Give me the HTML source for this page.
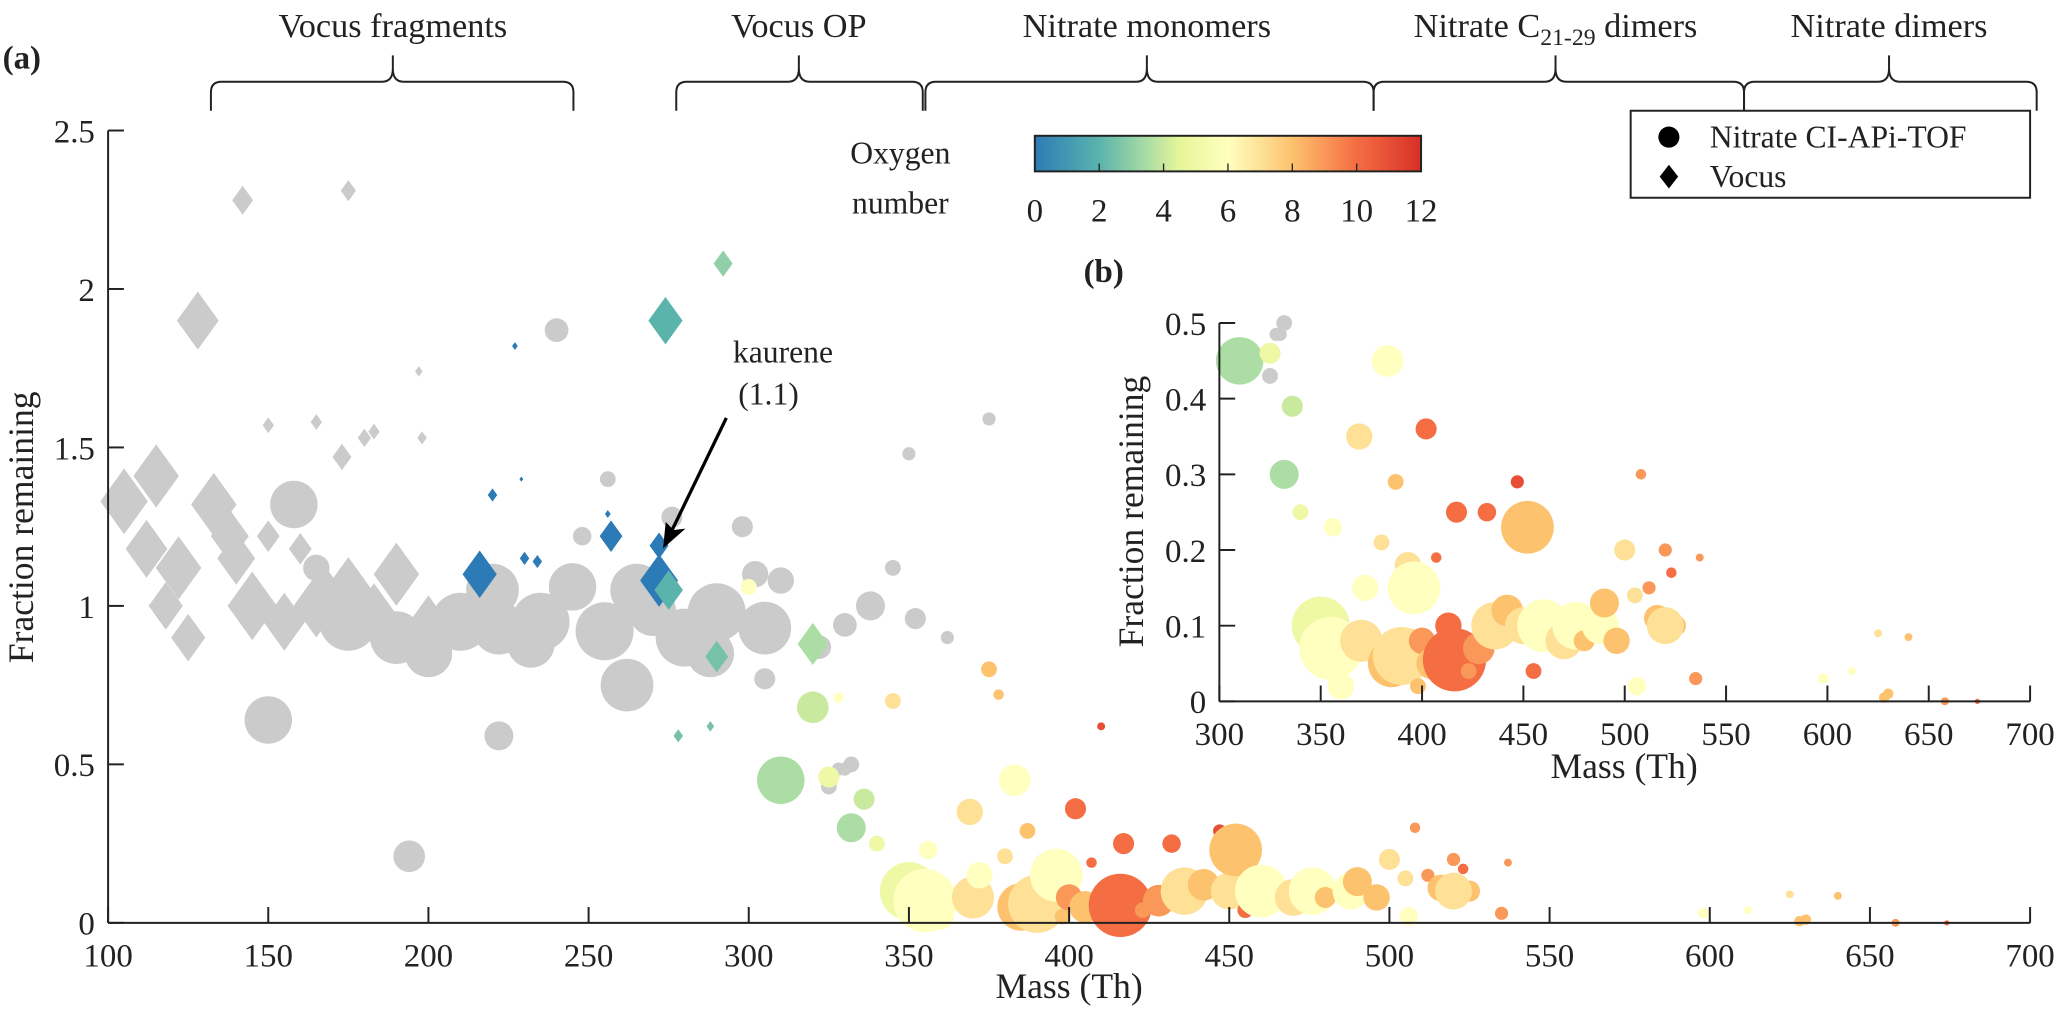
<!DOCTYPE html>
<html><head><meta charset="utf-8"><style>
body{margin:0;background:#fff}
svg{display:block}
text{font-family:"Liberation Serif","Times New Roman",serif}
</style></head><body>
<svg id="chart" width="2067" height="1013" viewBox="0 0 1568 768.4" preserveAspectRatio="none" xmlns="http://www.w3.org/2000/svg" font-family="Liberation Serif, serif">
<g id="top"></g>
<g id="main"></g>
<g id="inset"></g>
<g id="cbar"></g>
</svg>
<script>
const NS="http://www.w3.org/2000/svg";
const vocusMass=[128,142,175,105,115,112,122,118,125,133,138,140,145,155,165,175,183,190,200,150,165,173,180,183,197,198,150,160,168,216,257,220,230,234,227,229,256,272,272,274,292,275,290,320,278,288];
const vocusFrac=[1.9,2.28,2.31,1.33,1.41,1.18,1.12,1.0,0.9,1.32,1.22,1.15,1.0,0.95,1.0,1.05,0.98,1.1,0.95,1.57,1.58,1.47,1.53,1.55,1.74,1.53,1.22,1.18,1.08,1.1,1.22,1.35,1.15,1.14,1.82,1.4,1.29,1.19,1.08,1.9,2.08,1.05,0.84,0.88,0.59,0.62];
const vocusSize=[22,11,8,25,24,22,24,18,18,24,20,20,26,22,24,25,22,24,20,6,6,10,7,6,4,5,12,12,10,18,12,5,5,5,3,2,3,10,20,18,10,15,12,16,5,4];
const vocusOxy=[-1,-1,-1,-1,-1,-1,-1,-1,-1,-1,-1,-1,-1,-1,-1,-1,-1,-1,-1,-1,-1,-1,-1,-1,-1,-1,-1,-1,-1,0,0,0,0,0,0,0,0,0,0,2,3,2,2.5,3.5,2.5,2.5];
const nitMass=[150,158,165,194,222,240,256,248,175,190,200,210,222,232,245,255,262,270,280,290,298,302,305,288,276,305,310,322,330,338,345,350,375,352,362,332,330,220,235,265,328,325,
310,320,300,332,336,340,325,328,350,355,360,356,345,369,370,372,378,375,383,380,385,387,390,393,396,398,400,402,405,407,410,413,416,417,423,428,432,436,442,447,450,452,455,460,470,476,480,488,490,496,500,505,506,508,512,516,520,523,525,535,537,598,612,625,628,630,640,658,674,520];
const nitFrac=[0.64,1.32,1.12,0.21,0.59,1.87,1.4,1.22,0.95,0.9,0.85,0.95,0.93,0.88,1.06,0.92,0.75,0.98,0.9,0.98,1.25,1.1,0.93,0.85,1.28,0.77,1.08,0.87,0.94,1.0,1.12,1.48,1.59,0.96,0.9,0.5,0.485,1.05,0.95,1.05,0.485,0.43,
0.45,0.68,1.06,0.3,0.39,0.25,0.46,0.71,0.1,0.07,0.02,0.23,0.7,0.35,0.08,0.15,0.72,0.8,0.45,0.21,0.05,0.29,0.06,0.18,0.15,0.02,0.08,0.36,0.05,0.19,0.62,0.1,0.055,0.25,0.04,0.07,0.25,0.1,0.12,0.29,0.1,0.23,0.04,0.1,0.08,0.1,0.08,0.1,0.13,0.08,0.2,0.14,0.02,0.3,0.15,0.11,0.2,0.17,0.1,0.03,0.19,0.03,0.04,0.09,0.005,0.01,0.085,0.0,0.0,0.1];
const nitSize=[18,18,10,12,11,9,6,7,22,20,18,22,20,18,18,22,20,18,22,22,8,10,20,18,8,8,10,9,9,11,6,5,5,8,5,6,5,20,22,20,5,6,
18,12,6,11,8,6,8,4,22,24,10,7,6,10,16,10,4,6,12,6,18,6,22,10,20,6,10,8,12,4,3,10,24,8,6,12,7,18,12,5,14,20,6,20,14,18,8,14,11,10,8,6,7,4,5,10,5,4,8,5,3,4,3,3,4,4,3,3,2,14];
const nitOxy=[-1,-1,-1,-1,-1,-1,-1,-1,-1,-1,-1,-1,-1,-1,-1,-1,-1,-1,-1,-1,-1,-1,-1,-1,-1,-1,-1,-1,-1,-1,-1,-1,-1,-1,-1,-1,-1,-1,-1,-1,-1,-1,
3.5,4,6,3.5,4,5,5,6,5,6,6,6,7,7,7,6,8,8,6,7,8,8,7,7,6,8,9,10,8,10,11,10,10,10,9,9,10,7,8,11,7,8,10,6,7,6,8,6,8,8,7,7,6,9,9,8,9,10,8,9,9,6,6,7,8,8,8,9,10,7];
const xTicks=[100,150,200,250,300,350,400,450,500,550,600,650,700];
const yTicks=[0,0.5,1,1.5,2,2.5];
const ixTicks=[300,350,400,450,500,550,600,650,700];
const iyTicks=[0,0.1,0.2,0.3,0.4,0.5];
const cTicks=[0,2,4,6,8,10,12];

const X=m=>82+(m-100)*1458/600, Y=v=>700-v*240.4;
const IX=m=>925+(m-300)*615/400, IY=v=>532-v*574;
const stops=[[0,[44,123,182]],[2,[90,180,172]],[3.5,[171,221,164]],[4.5,[230,245,152]],[6,[255,255,191]],[8,[253,194,110]],[10,[244,109,67]],[12,[215,48,39]]];
function cmap(o){if(o<0)return"#cbcbcb";for(let i=0;i<stops.length-1;i++){const[a,ca]=stops[i],[b,cb]=stops[i+1];if(o<=b){const t=(o-a)/(b-a);return"rgb("+ca.map((c,k)=>Math.round(c+(cb[k]-c)*t)).join(",")+")";}}return"rgb(215,48,39)";}
function el(p,t,a){const e=document.createElementNS(NS,t);for(const k in a)e.setAttribute(k,a[k]);p.appendChild(e);return e;}
function txt(p,x,y,s,size,anchor){const e=el(p,"text",{x:x,y:y,"font-size":size,"text-anchor":anchor||"middle",fill:"#222","font-family":"Liberation Serif, serif"});e.textContent=s;return e;}
const main=document.getElementById("main"),inset=document.getElementById("inset"),top_=document.getElementById("top"),cbar=document.getElementById("cbar");

function diamond(g,cx,cy,s,fill){const w=s*0.72;const e=el(g,"polygon",{points:`${cx},${cy-s} ${cx+w},${cy} ${cx},${cy+s} ${cx-w},${cy}`,fill:fill});

}
function circ(g,cx,cy,r,fill,name){const e=el(g,"circle",{cx:cx,cy:cy,r:r,fill:fill});

}
function axes(g,xf,yf,xt,yt,x0,x1,y0,y1,name,fmt){
  el(g,"line",{x1:xf(x0),y1:yf(y0),x2:xf(x1),y2:yf(y0),stroke:"#222","stroke-width":1.5});
  el(g,"line",{x1:xf(x0),y1:yf(y0),x2:xf(x0),y2:yf(y1),stroke:"#222","stroke-width":1.5});
  xt.forEach(t=>{el(g,"line",{x1:xf(t),y1:yf(y0),x2:xf(t),y2:yf(y0)-12,stroke:"#222","stroke-width":1.5});
    const e=txt(g,xf(t),yf(y0)+33,String(t),25);});
  yt.forEach(t=>{el(g,"line",{x1:xf(x0),y1:yf(t),x2:xf(x0)+12,y2:yf(t),stroke:"#222","stroke-width":1.5});
    const e=txt(g,xf(x0)-10,yf(t)+9,fmt(t),25,"end");});
}
vocusMass.forEach((m,i)=>{if(vocusOxy[i]<0)diamond(main,X(m),Y(vocusFrac[i]),vocusSize[i],cmap(-1));});
nitMass.forEach((m,i)=>{if(nitOxy[i]<0)circ(main,X(m),Y(nitFrac[i]),nitSize[i],cmap(-1),'nitrate-point');});
vocusMass.forEach((m,i)=>{if(vocusOxy[i]>=0)diamond(main,X(m),Y(vocusFrac[i]),vocusSize[i],cmap(vocusOxy[i]));});
nitMass.forEach((m,i)=>{if(nitOxy[i]>=0)circ(main,X(m),Y(nitFrac[i]),nitSize[i],cmap(nitOxy[i]),'nitrate-point');});
axes(main,X,Y,xTicks,yTicks,100,700,0,2.5,"main",t=>String(t));
let e=txt(main,811,757,"Mass (Th)",27);
e=txt(main,0,0,"Fraction remaining",27);e.setAttribute("transform","translate(25,400) rotate(-90)");
e=txt(main,2,52,"(a)",25,"start");e.setAttribute("font-weight","bold");
e=txt(main,556,275,"kaurene",24,"start");
e=txt(main,560,307,"(1.1)",24,"start");
el(main,"line",{x1:551,y1:317,x2:506,y2:410,stroke:"#000","stroke-width":2.5});
el(main,"polygon",{points:"503,416 505,396 511,402 520,401",fill:"#000"});
nitMass.forEach((m,i)=>{if(m>=300&&nitFrac[i]<=0.5&&nitOxy[i]<0)circ(inset,IX(m),IY(nitFrac[i]),nitSize[i],cmap(-1),'inset-point');});
nitMass.forEach((m,i)=>{if(m>=300&&nitFrac[i]<=0.5&&nitOxy[i]>=0)circ(inset,IX(m),IY(nitFrac[i]),nitSize[i],cmap(nitOxy[i]),'inset-point');});
axes(inset,IX,IY,ixTicks,iyTicks,300,700,0,0.5,"inset",t=>t===0?"0":String(t));
e=txt(inset,1232,590,"Mass (Th)",27);
e=txt(inset,0,0,"Fraction remaining",27);e.setAttribute("transform","translate(867,388) rotate(-90)");
e=txt(inset,822,214,"(b)",25,"start");e.setAttribute("font-weight","bold");
const grad=el(cbar,"linearGradient",{id:"cg",x1:0,x2:1,y1:0,y2:0});
for(let o=0;o<=12;o+=0.5)el(grad,"stop",{offset:o/12,"stop-color":cmap(o)});
el(cbar,"rect",{x:785,y:103,width:293,height:27,fill:"url(#cg)",stroke:"#222","stroke-width":1.5});
cTicks.forEach(t=>{const x=785+t/12*293;el(cbar,"line",{x1:x,y1:130,x2:x,y2:124,stroke:"#222"});
 const e=txt(cbar,x,168,String(t),25);});
e=txt(cbar,683,124,"Oxygen",24);
e=txt(cbar,683,162,"number",24);
const lg=el(cbar,"g",{});
el(lg,"rect",{x:1237,y:84,width:303,height:66,fill:"#fff",stroke:"#222","stroke-width":1.5});
el(lg,"circle",{cx:1266,cy:104,r:8,fill:"#000"});
el(lg,"polygon",{points:"1266,125 1273,134 1266,143 1259,134",fill:"#000"});
txt(lg,1297,112,"Nitrate CI-APi-TOF",24,"start");
txt(lg,1297,142,"Vocus",24,"start");
const groups=[["Vocus fragments",160,298,435],["Vocus OP",513,606,700],["Nitrate monomers",702,870,1042],["Nitrate C21-29 dimers",1042,1180,1323],["Nitrate dimers",1323,1433,1545]];
groups.forEach(([name,a,p,b])=>{
  el(top_,"path",{d:`M${a},84 L${a},70 Q${a},62 ${a+8},62 L${p-8},62 Q${p},62 ${p},52 L${p},42 M${p},52 Q${p},62 ${p+8},62 L${b-8},62 Q${b},62 ${b},70 L${b},84`,fill:"none",stroke:"#222","stroke-width":1.5});
  let t;
  if(name.indexOf("C21")>=0){t=el(top_,"text",{x:p,y:28,"font-size":26,"text-anchor":"middle",fill:"#222","font-family":"Liberation Serif, serif"});
    t.appendChild(document.createTextNode("Nitrate C"));const s=el(t,"tspan",{"font-size":18,dy:6});s.textContent="21-29";const s2=el(t,"tspan",{dy:-6});s2.textContent=" dimers";}
  else t=txt(top_,p,28,name,26);
  
  
});
</script>
</body></html>
